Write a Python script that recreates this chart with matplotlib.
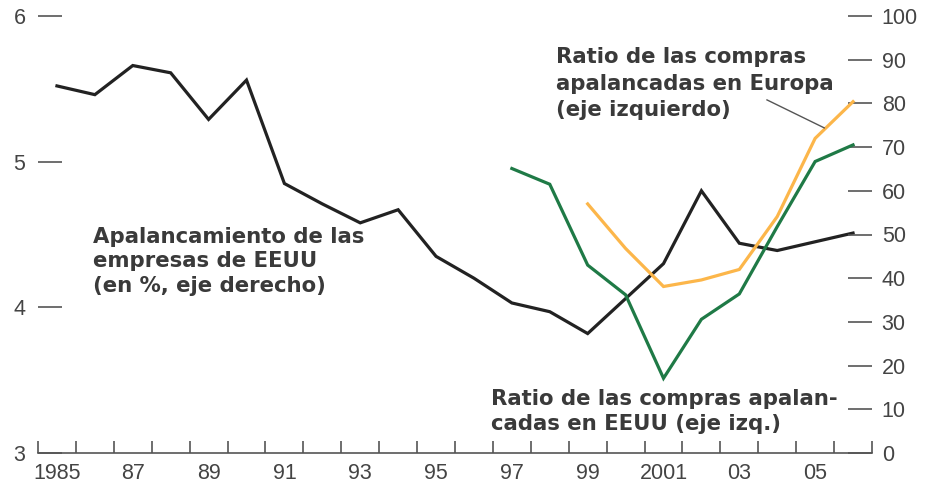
import matplotlib
matplotlib.use('Agg')
import matplotlib.pyplot as plt

# datos
years = list(range(1985, 2007))
apalancamiento = [5.52, 5.46, 5.66, 5.61, 5.29, 5.56, 4.85, 4.71, 4.58, 4.67, 4.35,
                  4.20, 4.03, 3.97, 3.82, 4.06, 4.30, 4.80, 4.44, 4.39, 4.45, 4.51]
years_eeuu = list(range(1997, 2007))
ratio_eeuu = [65.1, 61.5, 43.0, 36.2, 17.1, 30.6, 36.4, 51.8, 66.7, 70.5]
years_europa = list(range(1999, 2007))
ratio_europa = [57.0, 46.8, 38.1, 39.6, 42.0, 54.1, 72.0, 80.4]

xtick_labels = ['1985', '87', '89', '91', '93', '95', '97', '99', '2001', '03', '05']
left_ticks = [3, 4, 5, 6]
right_ticks = list(range(0, 101, 10))

tick_color = '#555555'
text_color = '#3a3a3a'
txt_font = ['DejaVu Sans']
num_font = ['Liberation Sans', 'DejaVu Sans']

fig = plt.figure(figsize=(9.32, 4.84), dpi=100)
ax = fig.add_axes([38/932, 31/484, (872-38)/932, (453-16)/484])
ax2 = ax.twinx()

ax.plot(years, apalancamiento, color='#222222', lw=2.3, solid_joinstyle='miter')
ax2.plot(years_eeuu, ratio_eeuu, color='#1f7a46', lw=2.3, solid_joinstyle='miter')
ax2.plot(years_europa, ratio_europa, color='#fcb64a', lw=2.3, solid_joinstyle='miter')

ax.set_xlim(1984.5, 2006.5)
ax.set_ylim(3, 6)
ax2.set_ylim(0, 100)

# ticks del eje x en los limites de cada anyo, etiquetas centradas
ax.set_xticks([y + 0.5 for y in range(1984, 2007)])
ax.set_xticklabels([])
ax.set_xticks(list(range(1985, 2006, 2)), minor=True)
ax.set_xticklabels(xtick_labels, minor=True, family=num_font, fontsize=15.5, color='#444444')
ax.tick_params(axis='x', which='major', direction='in', length=9, width=1.2, color=tick_color)
ax.tick_params(axis='x', which='minor', length=0, pad=7)

ax.set_yticks(left_ticks)
ax.set_yticklabels([str(t) for t in left_ticks], family=num_font, fontsize=15.5, color='#444444')
ax.tick_params(axis='y', direction='in', length=17, width=1.2, color=tick_color, pad=9)

ax2.set_yticks(right_ticks)
ax2.set_yticklabels([str(t) for t in right_ticks], family=num_font, fontsize=15.5, color='#444444')
ax2.tick_params(axis='y', direction='in', length=17, width=1.2, color=tick_color, pad=7)

for a in (ax, ax2):
    for s in ['top', 'left', 'right']:
        a.spines[s].set_visible(False)
    a.spines['bottom'].set_color(tick_color)
    a.spines['bottom'].set_linewidth(1.2)
ax2.spines['bottom'].set_visible(False)

ax2.text(1985.95, 51.8, 'Apalancamiento de las\nempresas de EEUU\n(en %, eje derecho)',
         family=txt_font, fontweight='bold', fontsize=15.3, color=text_color,
         va='top', ha='left', linespacing=1.3)
ax2.text(1998.17, 92.8, 'Ratio de las compras\napalancadas en Europa\n(eje izquierdo)',
         family=txt_font, fontweight='bold', fontsize=15.3, color=text_color,
         va='top', ha='left', linespacing=1.4)
ax2.text(1996.45, 14.6, 'Ratio de las compras apalan-\ncadas en EEUU (eje izq.)',
         family=txt_font, fontweight='bold', fontsize=15.3, color=text_color,
         va='top', ha='left', linespacing=1.3)
ax2.plot([2003.73, 2005.24], [80.8, 74.4], color='#555555', lw=1)

fig.savefig('out.png', dpi=100)
